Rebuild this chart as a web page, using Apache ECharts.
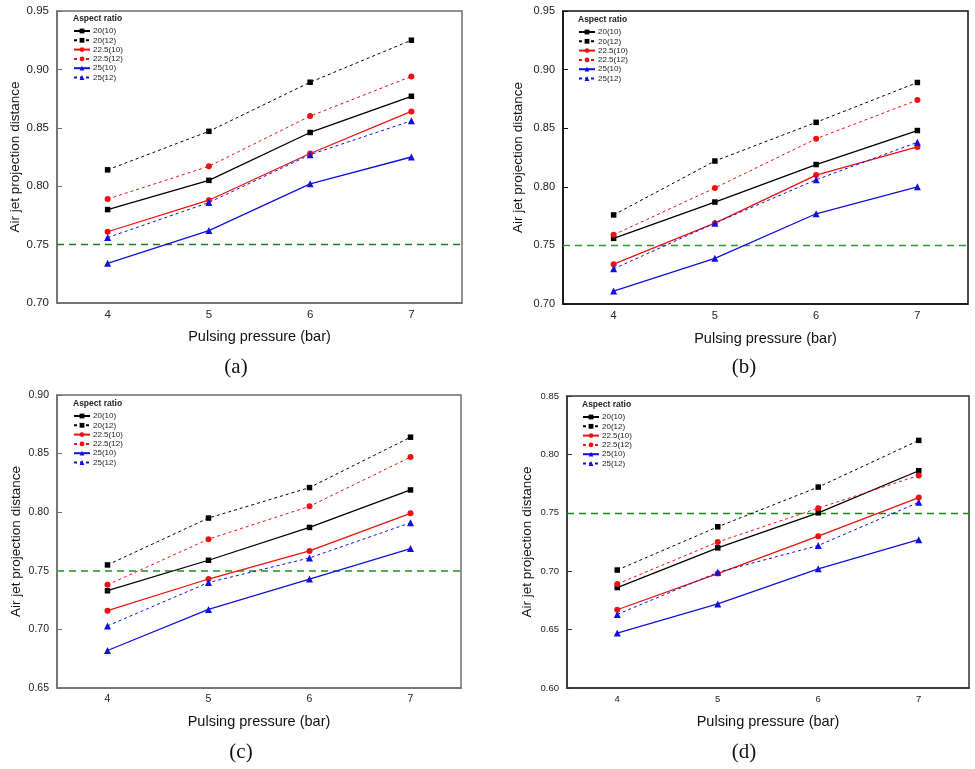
<!DOCTYPE html>
<html>
<head>
<meta charset="utf-8">
<script src="https://cdn.jsdelivr.net/npm/echarts@6/dist/echarts.min.js"></script>
<style>
html,body{margin:0;padding:0;background:#fff;}
#chart{width:975px;height:769px;}
</style>
</head>
<body>
<div id="chart"></div>
<script>
// ---------------- DATA ----------------
const pressure = ['4', '5', '6', '7'];
const seriesNames = ['20(10)', '20(12)', '22.5(10)', '22.5(12)', '25(10)', '25(12)'];

// panel (a)
const a_20_10  = [0.780, 0.805, 0.846, 0.877];
const a_20_12  = [0.814, 0.847, 0.889, 0.925];
const a_225_10 = [0.761, 0.788, 0.828, 0.864];
const a_225_12 = [0.789, 0.817, 0.860, 0.894];
const a_25_10  = [0.734, 0.762, 0.802, 0.825];
const a_25_12  = [0.756, 0.786, 0.827, 0.856];

// panel (b)
const b_20_10  = [0.756, 0.787, 0.819, 0.848];
const b_20_12  = [0.776, 0.822, 0.855, 0.889];
const b_225_10 = [0.734, 0.769, 0.810, 0.834];
const b_225_12 = [0.759, 0.799, 0.841, 0.874];
const b_25_10  = [0.711, 0.739, 0.777, 0.800];
const b_25_12  = [0.730, 0.769, 0.806, 0.838];

// panel (c)
const c_20_10  = [0.733, 0.759, 0.787, 0.819];
const c_20_12  = [0.755, 0.795, 0.821, 0.864];
const c_225_10 = [0.716, 0.743, 0.767, 0.799];
const c_225_12 = [0.738, 0.777, 0.805, 0.847];
const c_25_10  = [0.682, 0.717, 0.743, 0.769];
const c_25_12  = [0.703, 0.740, 0.761, 0.791];

// panel (d)
const d_20_10  = [0.686, 0.720, 0.750, 0.786];
const d_20_12  = [0.701, 0.738, 0.772, 0.812];
const d_225_10 = [0.667, 0.698, 0.730, 0.763];
const d_225_12 = [0.689, 0.725, 0.754, 0.782];
const d_25_10  = [0.647, 0.672, 0.702, 0.727];
const d_25_12  = [0.663, 0.699, 0.722, 0.759];

const yRanges = [[0.70, 0.95], [0.70, 0.95], [0.65, 0.90], [0.60, 0.85]];
const referenceLevel = 0.75;
const captions = ['(a)', '(b)', '(c)', '(d)'];
const xTitle = 'Pulsing pressure (bar)';
const yTitle = 'Air jet projection distance';
const legendTitle = 'Aspect ratio';

// ---------------- STYLE / LAYOUT ----------------
const FONT = '"Liberation Sans", Arial, sans-serif';
const styles = [
  {color: '#000000', dash: 'solid', symbol: 'rect', size: 5.5},
  {color: '#000000', dash: [3, 3], symbol: 'rect', size: 5.5},
  {color: '#ee1111', dash: 'solid', symbol: 'circle', size: 6},
  {color: '#ee1111', dash: [3, 3], symbol: 'circle', size: 6},
  {color: '#1010dd', dash: 'solid', symbol: 'triangle', size: 7},
  {color: '#1010dd', dash: [3, 3], symbol: 'triangle', size: 7}
];

const panels = [
  {data: [a_20_10, a_20_12, a_225_10, a_225_12, a_25_10, a_25_12],
   grid: {left: 57, top: 11, width: 405, height: 292}, border: '#6e6e6e',
   green: '#1c7c1c', greenW: 1.3, tick: 11.5, yGap: 34, xGap: 26,
   legend: {left: 73, top: 27}, legTitle: [73, 19], cap: [236, 367]},
  {data: [b_20_10, b_20_12, b_225_10, b_225_12, b_25_10, b_25_12],
   grid: {left: 563, top: 11, width: 405, height: 293}, border: '#111111',
   green: '#2a9a2a', greenW: 1.4, tick: 11, yGap: 38, xGap: 27,
   legend: {left: 578, top: 28}, legTitle: [578, 20], cap: [744, 367]},
  {data: [c_20_10, c_20_12, c_225_10, c_225_12, c_25_10, c_25_12],
   grid: {left: 57, top: 395, width: 404, height: 293}, border: '#6e6e6e',
   green: '#5aaa5a', greenW: 2, tick: 10.5, yGap: 34, xGap: 26,
   legend: {left: 73, top: 412}, legTitle: [73, 404], cap: [241, 752]},
  {data: [d_20_10, d_20_12, d_225_10, d_225_12, d_25_10, d_25_12],
   grid: {left: 567, top: 396, width: 402, height: 292}, border: '#333333',
   green: '#188818', greenW: 1.4, tick: 9.5, yGap: 33, xGap: 26,
   legend: {left: 582, top: 413}, legTitle: [582, 405], cap: [744, 752]}
];

const grids = [], xAxes = [], yAxes = [], series = [], legends = [], graphics = [];

panels.forEach((p, i) => {
  grids.push(Object.assign({show: true, borderColor: p.border, borderWidth: 1.5,
    backgroundColor: 'transparent', containLabel: false, outerBoundsMode: 'none'}, p.grid));
  xAxes.push({
    type: 'category', gridIndex: i, data: pressure, boundaryGap: true,
    name: xTitle, nameLocation: 'middle', nameGap: p.xGap,
    nameTextStyle: {fontFamily: FONT, fontSize: 14.5, color: '#111'},
    axisLine: {lineStyle: {color: p.border, width: 1.5}},
    axisTick: {inside: true, alignWithLabel: true, length: 5, lineStyle: {color: p.border, width: 1}},
    axisLabel: {fontFamily: FONT, fontSize: p.tick, color: '#222', margin: 6},
    splitLine: {show: false}
  });
  yAxes.push({
    type: 'value', gridIndex: i, min: yRanges[i][0], max: yRanges[i][1], interval: 0.05,
    name: yTitle, nameLocation: 'middle', nameGap: p.yGap, nameRotate: 90,
    nameTextStyle: {fontFamily: FONT, fontSize: 13.5, color: '#111'},
    axisLine: {show: true, lineStyle: {color: p.border, width: 1.5}},
    axisTick: {show: true, inside: true, length: 5, lineStyle: {color: p.border, width: 1}},
    axisLabel: {fontFamily: FONT, fontSize: p.tick, color: '#222', margin: 8,
      formatter: v => v.toFixed(2)},
    splitLine: {show: false}
  });
  seriesNames.forEach((name, k) => {
    const s = styles[k];
    const ser = {
      type: 'line', name: name, xAxisIndex: i, yAxisIndex: i,
      data: p.data[k], symbol: s.symbol, symbolSize: s.size, showSymbol: true,
      lineStyle: {color: s.color, width: s.dash === 'solid' ? 1.3 : 1, type: s.dash},
      itemStyle: {color: s.color},
      z: 3
    };
    if (k === 0) {
      ser.markLine = {
        silent: true, symbol: ['none', 'none'], label: {show: false},
        lineStyle: {color: p.green, width: p.greenW, type: [7, 5], opacity: 1},
        emphasis: {disabled: true},
        data: [{yAxis: referenceLevel, lineStyle: {color: p.green}}], z: 1
      };
    }
    series.push(ser);
  });
  legends.push({
    orient: 'vertical', left: p.legend.left, top: p.legend.top, padding: 0,
    itemWidth: 16, itemHeight: 6, itemGap: 1.3,
    data: seriesNames,
    textStyle: {fontFamily: FONT, fontSize: 8, lineHeight: 8, color: '#222', padding: [0, 0, 0, -2]}
  });
  graphics.push({
    type: 'text', left: p.legTitle[0], top: p.legTitle[1] - 5,
    style: {text: legendTitle, font: 'bold 8.5px ' + FONT, fill: '#222'}
  });
  graphics.push({
    type: 'text', x: p.cap[0], y: p.cap[1],
    style: {text: captions[i], font: '21px "Liberation Serif", "DejaVu Serif", serif', fill: '#111',
      textAlign: 'center', textVerticalAlign: 'middle'}
  });
});

const chart = echarts.init(document.getElementById('chart'), null, {renderer: 'canvas'});
chart.setOption({
  backgroundColor: '#ffffff',
  animation: false,
  grid: grids, xAxis: xAxes, yAxis: yAxes,
  legend: legends, series: series, graphic: graphics
});
</script>
</body>
</html>
